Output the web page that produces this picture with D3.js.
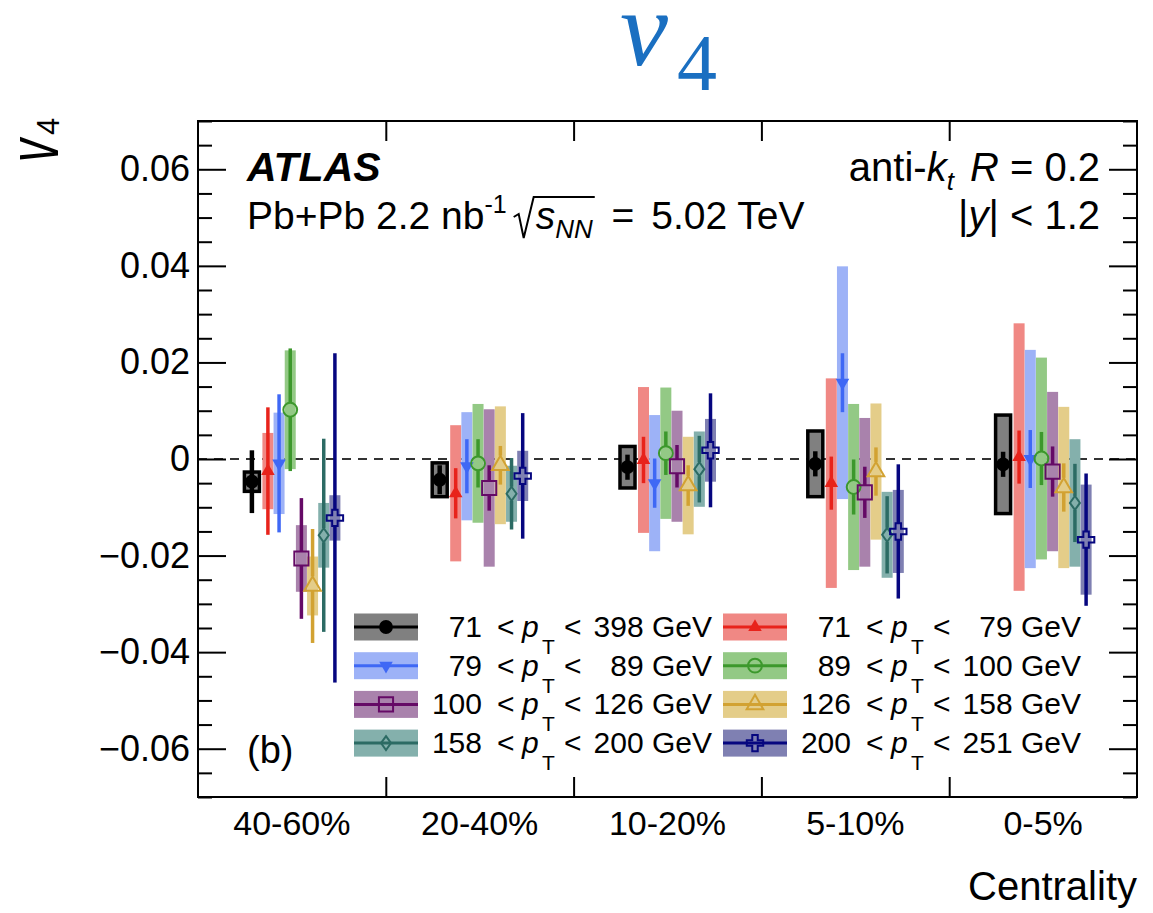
<!DOCTYPE html>
<html lang="en">
<head>
<meta charset="utf-8">
<title>v4 vs centrality</title>
<script src="https://cdn.jsdelivr.net/npm/d3@7"></script>
<style>
	body { margin: 0; background: #fff; }
	svg text { font-family: "Liberation Sans", Arial, sans-serif; fill: #000; white-space: pre; }
</style>
</head>
<body>
<script>

// ---------------- data ----------------
var centrality = ["40-60%", "20-40%", "10-20%", "5-10%", "0-5%"];
var ptLow  = [71, 71, 79, 89, 100, 126, 158, 200];
var ptHigh = [398, 79, 89, 100, 126, 158, 200, 251];

// one row per pT bin, one column per centrality class
var v4 = [
	[-0.0047, -0.0043, -0.0017, -0.0010, -0.0011],
	[-0.0025, -0.0071, -0.0002, -0.0050,  0.0004],
	[-0.0009, -0.0015, -0.0050,  0.0158,  0.0000],
	[ 0.0102, -0.0009,  0.0012, -0.0058,  0.0001],
	[-0.0206, -0.0060, -0.0015, -0.0069, -0.0026],
	[-0.0263, -0.0013, -0.0055, -0.0026, -0.0059],
	[-0.0158, -0.0072, -0.0021, -0.0157, -0.0091],
	[-0.0122, -0.0035,  0.0018, -0.0150, -0.0167]
];
var statErr = [
	[0.0065, 0.0030, 0.0026, 0.0026, 0.0026],
	[0.0132, 0.0052, 0.0048, 0.0055, 0.0055],
	[0.0143, 0.0056, 0.0051, 0.0061, 0.0060],
	[0.0127, 0.0050, 0.0045, 0.0057, 0.0055],
	[0.0125, 0.0047, 0.0044, 0.0053, 0.0052],
	[0.0118, 0.0040, 0.0042, 0.0050, 0.0050],
	[0.0200, 0.0074, 0.0069, 0.0080, 0.0081],
	[0.0341, 0.0130, 0.0118, 0.0139, 0.0137]
];
var sysErr = [
	[0.0020, 0.0035, 0.0043, 0.0068, 0.0102],
	[0.0079, 0.0141, 0.0151, 0.0217, 0.0277],
	[0.0105, 0.0112, 0.0141, 0.0241, 0.0226],
	[0.0123, 0.0123, 0.0136, 0.0172, 0.0209],
	[0.0069, 0.0163, 0.0115, 0.0154, 0.0165],
	[0.0061, 0.0122, 0.0101, 0.0141, 0.0167],
	[0.0067, 0.0058, 0.0078, 0.0089, 0.0132],
	[0.0047, 0.0052, 0.0065, 0.0086, 0.0114]
];
var yMajor = [-0.06, -0.04, -0.02, 0, 0.02, 0.04, 0.06];

// colours
var lineColors = ["#000000", "#e8231b", "#3f68f5", "#3c982c", "#650a66", "#d2a232", "#2c6b64", "#06067f"];
var boxColors  = ["#808080", "#f08884", "#9db2f7", "#93c985", "#a982ac", "#e4cd89", "#84b0ac", "#7f80b2"];

// ---------------- layout ----------------
var W = 1153, H = 913;
var margin = {top: 121, right: 16, bottom: 116, left: 198},
	w = W - margin.left - margin.right,
	h = H - margin.top - margin.bottom;

var svg = d3.select("body").append("svg")
	.attr("width", W)
	.attr("height", H);

var plot = svg.append("g")
	.attr("transform", "translate(" + margin.left + "," + margin.top + ")");

var x = d3.scaleBand().domain(centrality).range([0, w]);
var xEdge = d3.scaleLinear().domain([0, centrality.length]).range([0, w]);
var y = d3.scaleLinear().domain([-0.07, 0.07]).range([h, 0]);

// horizontal offset of each pT bin inside a centrality class
var xOff = d3.scalePoint().domain(d3.range(1, 8)).range([-24, 43]);
function off(s) { return s === 0 ? -40 : xOff(s); }

var yMinor = d3.range(-0.07, 0.0701, 0.005).filter(function(v) {
	return !yMajor.some(function(m) { return Math.abs(m - v) < 1e-6; });
});

// zero line
plot.append("line")
	.attr("x1", 0).attr("x2", w)
	.attr("y1", y(0)).attr("y2", y(0))
	.attr("stroke", "#333")
	.attr("stroke-width", 2)
	.attr("stroke-dasharray", "9,7");

// ---------------- axes ----------------
var fmt = d3.format(".2f");
function styleAxis(g) {
	g.select(".domain").remove();
	g.selectAll(".tick line").attr("stroke", "#000").attr("stroke-width", 2);
	g.selectAll("text").attr("fill", "#000").style("font-family", "Liberation Sans, Arial, sans-serif");
}

plot.append("g")
	.call(d3.axisLeft(y).tickValues(yMajor).tickSize(-28).tickPadding(8)
		.tickFormat(function(d) { return Math.abs(d) < 1e-9 ? "0" : fmt(d); }))
	.call(styleAxis)
	.selectAll("text").style("font-size", "36px");

plot.append("g")
	.call(d3.axisLeft(y).tickValues(yMinor).tickSize(-14).tickFormat(""))
	.call(styleAxis);

plot.append("g")
	.attr("transform", "translate(" + w + ",0)")
	.call(d3.axisRight(y).tickValues(yMajor).tickSize(-28).tickFormat(""))
	.call(styleAxis);

plot.append("g")
	.attr("transform", "translate(" + w + ",0)")
	.call(d3.axisRight(y).tickValues(yMinor).tickSize(-14).tickFormat(""))
	.call(styleAxis);

plot.append("g")
	.attr("transform", "translate(0," + h + ")")
	.call(d3.axisBottom(xEdge).tickValues([1, 2, 3, 4]).tickSize(-20).tickFormat(""))
	.call(styleAxis);

plot.append("g")
	.call(d3.axisTop(xEdge).tickValues([1, 2, 3, 4]).tickSize(-20).tickFormat(""))
	.call(styleAxis);

plot.append("g")
	.attr("transform", "translate(0," + h + ")")
	.call(d3.axisBottom(x).tickSize(0).tickPadding(14))
	.call(styleAxis)
	.selectAll("text").style("font-size", "34px");

// frame
plot.append("rect")
	.attr("width", w).attr("height", h)
	.attr("fill", "none")
	.attr("stroke", "#000")
	.attr("stroke-width", 2);

// ---------------- markers ----------------
var diamond = {
	draw: function(ctx) {
		ctx.moveTo(0, -7); ctx.lineTo(5, 0); ctx.lineTo(0, 7); ctx.lineTo(-5, 0); ctx.closePath();
	}
};
var markers = [
	{type: d3.symbolCircle, size: 150, open: false},
	{type: d3.symbolTriangle, size: 80, open: false},
	{type: d3.symbolTriangle, size: 80, open: false, flip: true},
	{type: d3.symbolCircle, size: 150, open: true},
	{type: d3.symbolSquare, size: 200, open: true},
	{type: d3.symbolTriangle, size: 120, open: true},
	{type: diamond, size: 64, open: true},
	{type: d3.symbolCross, size: 150, open: true}
];

function addMarker(g, s, cx, cy) {
	var m = markers[s];
	return g.append("path")
		.attr("d", d3.symbol().type(m.type).size(m.size)())
		.attr("transform", "translate(" + cx + "," + cy + ")" + (m.flip ? " rotate(180)" : ""))
		.attr("fill", m.open ? "none" : lineColors[s])
		.attr("stroke", lineColors[s])
		.attr("stroke-width", m.open ? 2 : 0);
}

// vertical extent of each marker, so the error bars stop at open markers
var probe = svg.append("g");
markers.forEach(function(m, s) {
	var b = addMarker(probe, s, 0, 0).node().getBBox();
	m.top = m.flip ? -(b.y + b.height) : b.y;
	m.bottom = m.flip ? -b.y : b.y + b.height;
});
probe.remove();

// ---------------- data points ----------------
var pts = [];
v4.forEach(function(row, s) {
	row.forEach(function(v, c) {
		pts.push({s: s, cat: centrality[c], v: v, stat: statErr[s][c], sys: sysErr[s][c]});
	});
});
function xPos(d) { return x(d.cat) + x.bandwidth() / 2 + off(d.s); }

var dots = plot.append("g");

// systematic boxes
dots.selectAll(".sys")
	.data(pts)
	.enter().append("rect")
	.attr("class", "sys")
	.attr("x", function(d) { return xPos(d) - (d.s === 0 ? 7.5 : 5.5); })
	.attr("width", function(d) { return d.s === 0 ? 15 : 11; })
	.attr("y", function(d) { return y(d.v + d.sys); })
	.attr("height", function(d) { return y(d.v - d.sys) - y(d.v + d.sys); })
	.attr("fill", function(d) { return boxColors[d.s]; })
	.attr("stroke", function(d) { return d.s === 0 ? "#000" : "none"; })
	.attr("stroke-width", 3.5);

// statistical bars, split around open markers
pts.forEach(function(d) {
	var m = markers[d.s], cx = xPos(d), cy = y(d.v);
	var gapTop = m.open ? m.top : 0, gapBot = m.open ? m.bottom : 0;
	var lw = d.s === 0 ? 4.5 : 3.5;
	dots.append("line")
		.attr("x1", cx).attr("x2", cx)
		.attr("y1", y(d.v + d.stat)).attr("y2", Math.max(y(d.v + d.stat), cy + gapTop))
		.attr("stroke", lineColors[d.s]).attr("stroke-width", lw);
	dots.append("line")
		.attr("x1", cx).attr("x2", cx)
		.attr("y1", Math.min(y(d.v - d.stat), cy + gapBot)).attr("y2", y(d.v - d.stat))
		.attr("stroke", lineColors[d.s]).attr("stroke-width", lw);
});

pts.forEach(function(d) { addMarker(dots, d.s, xPos(d), y(d.v)); });

// ---------------- rich text helper ----------------
function rich(g, x0, y0, parts, anchor) {
	var grp = g.append("g");
	var cx = 0;
	parts.forEach(function(p) {
		if (p.gap) { p.x0 = cx; cx += p.gap; p.x1 = cx; return; }
		var t = grp.append("text")
			.attr("x", cx)
			.attr("y", p.dy || 0)
			.style("font-size", p.size + "px")
			.text(p.t);
		if (p.it) t.style("font-style", "italic");
		if (p.b) t.style("font-weight", "bold");
		p.x0 = cx;
		cx += t.node().getComputedTextLength();
		p.x1 = cx;
	});
	var dx = anchor === "end" ? x0 - cx : x0;
	grp.attr("transform", "translate(" + dx + "," + y0 + ")");
	return grp;
}

// ---------------- labels ----------------
rich(svg, 247, 181, [{t: "ATLAS", size: 41, it: true, b: true}]);

var sq = [
	{t: "Pb+Pb 2.2 nb", size: 39},
	{t: "-1", size: 25, dy: -16},
	{gap: 6},
	{gap: 23},
	{t: "s", size: 39, it: true},
	{t: "NN", size: 26, it: true, dy: 9},
	{gap: 8},
	{t: " = ", size: 39},
	{gap: 6},
	{t: "5.02 TeV", size: 39}
];
var sqG = rich(svg, 247, 229, sq);
sqG.append("path")
	.attr("d", "M" + (sq[3].x0 + 1) + ",-12 L" + (sq[3].x0 + 6) + ",-15 L" + (sq[3].x0 + 11) + ",9 L" +
		(sq[3].x1 - 2) + ",-32 L" + (sq[5].x1 + 2) + ",-32")
	.attr("fill", "none").attr("stroke", "#000").attr("stroke-width", 2);

rich(svg, 1100, 181, [
	{t: "anti-", size: 40},
	{t: "k", size: 40, it: true},
	{t: "t", size: 26, it: true, dy: 9},
	{gap: 16},
	{t: "R", size: 40, it: true},
	{t: " = 0.2", size: 40}
], "end");

rich(svg, 1100, 229, [
	{t: "|", size: 40},
	{t: "y", size: 40, it: true},
	{t: "| < 1.2", size: 40}
], "end");

rich(svg, 247, 763, [{t: "(b)", size: 38}]);

rich(svg, 1137, 900, [{t: "Centrality", size: 40}], "end");

// y axis title
var yt = svg.append("g").attr("transform", "translate(58,162) rotate(-90)");
yt.append("text")
	.attr("transform", "scale(0.64,1)")
	.style("font-size", "72px").style("font-style", "italic")
	.text("v");
yt.append("text")
	.attr("x", 27).attr("y", 1)
	.style("font-size", "31px")
	.text("4");

// big title
svg.append("text")
	.attr("x", 620).attr("y", 65)
	.style("font-family", "Liberation Serif, serif")
	.style("font-style", "italic")
	.style("font-size", "108px")
	.style("fill", "#1a6fc1")
	.text("v");
svg.append("text")
	.attr("x", 677).attr("y", 90)
	.style("font-family", "Liberation Serif, serif")
	.style("font-size", "80px")
	.style("fill", "#1a6fc1")
	.text("4");

// ---------------- legend ----------------
var legX = [354, 723], legY0 = 627, legStep = 38.7;
var legend = svg.append("g");
ptLow.forEach(function(lo, s) {
	var bx = legX[s % 2], cy = legY0 + Math.floor(s / 2) * legStep;
	legend.append("rect")
		.attr("x", bx).attr("y", cy - 13.5)
		.attr("width", 64).attr("height", 27)
		.attr("fill", boxColors[s]);
	legend.append("line")
		.attr("x1", bx).attr("x2", bx + 64)
		.attr("y1", cy).attr("y2", cy)
		.attr("stroke", lineColors[s]).attr("stroke-width", 3);
	addMarker(legend, s, bx + 32, cy);

	var base = cy + 10;
	rich(legend, bx + 128, base, [{t: String(lo), size: 30}], "end");
	rich(legend, bx + 143, base, [{t: "<", size: 30}]);
	rich(legend, bx + 168, base, [{t: "p", size: 30, it: true}]);
	rich(legend, bx + 188, base + 17, [{t: "T", size: 21}]);
	rich(legend, bx + 210, base, [{t: "<", size: 30}]);
	rich(legend, bx + 358, base, [{t: ptHigh[s] + " GeV", size: 30}], "end");
});

</script>
</body>
</html>
